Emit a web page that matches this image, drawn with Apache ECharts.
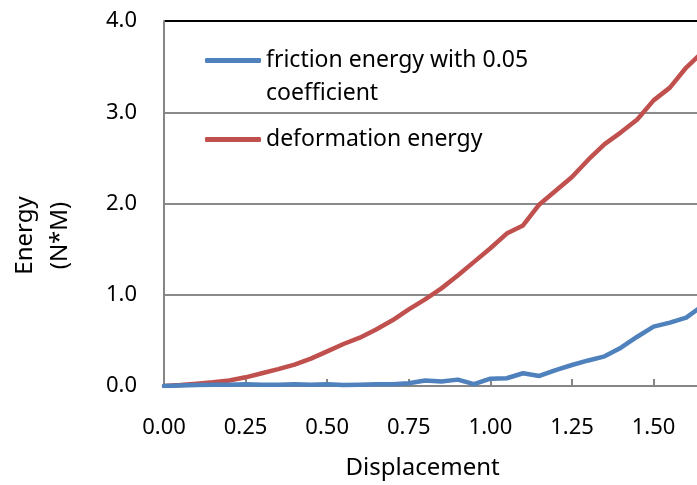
<!DOCTYPE html>
<html>
<head>
<meta charset="utf-8">
<script src="https://cdn.jsdelivr.net/npm/echarts@6/dist/echarts.min.js"></script>
<style>
  html, body { margin: 0; padding: 0; background: #fff; overflow: hidden; }
  #chart { width: 760px; height: 485px; }
</style>
</head>
<body>
<div id="chart"></div>
<script>
// Displacement steps
const displacement = [0, 0.05, 0.1, 0.15, 0.2, 0.25, 0.3, 0.35, 0.4, 0.45, 0.5, 0.55, 0.6, 0.65,
  0.7, 0.75, 0.8, 0.85, 0.9, 0.95, 1.0, 1.05, 1.1, 1.15, 1.2, 1.25, 1.3, 1.35, 1.4, 1.45,
  1.5, 1.55, 1.6, 1.65];
// Friction energy with a 0.05 coefficient (N*M)
const frictionEnergy = [0, 0.005, 0.01, 0.015, 0.015, 0.02, 0.015, 0.015, 0.02, 0.015, 0.02,
  0.01, 0.015, 0.02, 0.02, 0.03, 0.06, 0.05, 0.07, 0.02, 0.08, 0.085, 0.14, 0.11, 0.175,
  0.23, 0.28, 0.325, 0.42, 0.54, 0.65, 0.695, 0.75, 0.88];
// Deformation energy (N*M)
const deformationEnergy = [0, 0.01, 0.025, 0.04, 0.06, 0.095, 0.14, 0.185, 0.235, 0.30, 0.38,
  0.46, 0.53, 0.62, 0.72, 0.84, 0.95, 1.07, 1.21, 1.36, 1.51, 1.67, 1.76, 1.99, 2.14, 2.29,
  2.48, 2.65, 2.78, 2.92, 3.13, 3.27, 3.49, 3.66];

const seriesNames = ['friction energy with 0.05\ncoefficient', 'deformation energy'];
const xTitle = 'Displacement';
const yTitle = 'Energy\n(N*M)';

const FONT = 'Noto Sans';
const pairs = ys => displacement.map((x, i) => [x, ys[i]]);

const chart = echarts.init(document.getElementById('chart'), null, { renderer: 'canvas' });
chart.setOption({
  animation: false,
  backgroundColor: '#fff',
  textStyle: { fontFamily: FONT, color: '#000' },
  grid: { left: 164, top: 21, right: 22.7, bottom: 96, containLabel: false },
  legend: {
    orient: 'vertical',
    left: 205,
    top: 11,
    padding: 0,
    itemGap: 13,
    itemWidth: 56,
    itemHeight: 5,
    icon: 'roundRect',
    // a blank leading line keeps the swatch level with the first text line of a wrapped name
    formatter: name => (name.indexOf('\n') >= 0 ? '\n' + name : name),
    textStyle: { fontFamily: FONT, fontSize: 23, color: '#000', lineHeight: 33 },
    data: seriesNames
  },
  xAxis: {
    type: 'value',
    min: 0,
    max: 1.75,
    interval: 0.25,
    name: xTitle,
    nameLocation: 'middle',
    nameGap: 70,
    nameTextStyle: { fontFamily: FONT, fontSize: 24, color: '#000', padding: [0, 54, 0, 0] },
    axisLine: { show: true, lineStyle: { color: '#868686', width: 2 } },
    axisTick: { show: true, inside: true, length: 7, lineStyle: { color: '#868686', width: 2 } },
    axisLabel: {
      fontFamily: FONT, fontSize: 22, color: '#000', margin: 31,
      formatter: v => v.toFixed(2)
    },
    splitLine: { show: false }
  },
  yAxis: {
    type: 'value',
    min: 0,
    max: 4,
    interval: 1,
    name: yTitle,
    nameLocation: 'middle',
    nameGap: 86,
    nameTextStyle: { fontFamily: FONT, fontSize: 24, color: '#000', lineHeight: 35, padding: [0, 64, 0, 0] },
    axisLine: { show: true, lineStyle: { color: '#868686', width: 2 } },
    axisTick: { show: false },
    axisLabel: {
      fontFamily: FONT, fontSize: 22, color: '#000', margin: 27,
      formatter: v => v.toFixed(1)
    },
    splitLine: { show: true, lineStyle: { color: ['#8a8a8a', '#8a8a8a', '#8a8a8a', '#8a8a8a', '#000'], width: 2 } }
  },
  series: [
    {
      name: seriesNames[0],
      type: 'line',
      data: pairs(frictionEnergy),
      symbol: 'none',
      lineStyle: { color: '#4F81BD', width: 4.5, cap: 'round', join: 'round' },
      itemStyle: { color: '#4F81BD' },
      z: 3
    },
    {
      name: seriesNames[1],
      type: 'line',
      data: pairs(deformationEnergy),
      symbol: 'none',
      lineStyle: { color: '#C0504D', width: 4.5, cap: 'round', join: 'round' },
      itemStyle: { color: '#C0504D' },
      z: 2
    }
  ]
});
</script>
</body>
</html>
